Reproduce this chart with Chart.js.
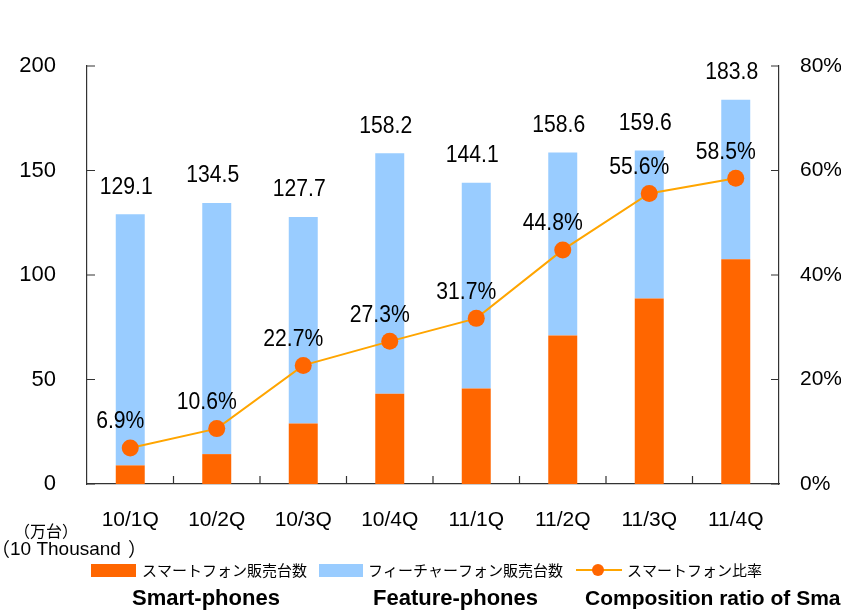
<!DOCTYPE html>
<html>
<head>
<meta charset="utf-8">
<script src="https://cdn.jsdelivr.net/npm/chart.js@4.4.1/dist/chart.umd.min.js"></script>
<style>
  html, body { margin: 0; padding: 0; background: #fff; }
  #wrap { width: 841px; height: 610px; position: relative; }
</style>
</head>
<body>
<div id="wrap"><canvas id="chart"></canvas></div>
<script>
// quarterly sales (10k units) and smartphone share
const quarters = ['10/1Q', '10/2Q', '10/3Q', '10/4Q', '11/1Q', '11/2Q', '11/3Q', '11/4Q'];
const smartUnits = [8.9, 14.3, 29.0, 43.2, 45.7, 71.1, 88.7, 107.5];
const featureUnits = [120.2, 120.2, 98.7, 115.0, 98.4, 87.5, 70.9, 76.3];
const smartRatio = [6.9, 10.6, 22.7, 27.3, 31.7, 44.8, 55.6, 58.5];

const ORANGE = '#FF6600';
const BLUE = '#99CCFF';
const LINE = '#FFA500';
const AXIS = '#333333';
const JP = '"Noto Sans CJK JP"';
const SANS = 'Liberation Sans';

// squeeze the value labels a little so they look like the half-width gothic digits
function narrowText(ctx, text, x, y) {
  ctx.save();
  ctx.translate(x, y);
  ctx.scale(0.92, 1);
  ctx.fillText(text, 0, 0);
  ctx.restore();
}

const decorations = {
  id: 'decorations',
  afterDatasetsDraw(chart) {
    const { ctx, chartArea: a, scales: { x, y, y1 } } = chart;
    ctx.save();

    // tick marks point into the plot area
    ctx.strokeStyle = AXIS;
    ctx.lineWidth = 1.2;
    ctx.beginPath();
    y.ticks.forEach(t => {
      const py = y.getPixelForValue(t.value);
      ctx.moveTo(a.left, py); ctx.lineTo(a.left + 8, py);
    });
    y1.ticks.forEach(t => {
      const py = y1.getPixelForValue(t.value);
      ctx.moveTo(a.right, py); ctx.lineTo(a.right - 8, py);
    });
    for (let i = 1; i < quarters.length; i++) {
      const px = (x.getPixelForValue(i - 1) + x.getPixelForValue(i)) / 2;
      ctx.moveTo(px, a.bottom); ctx.lineTo(px, a.bottom - 8);
    }
    ctx.stroke();

    // totals above the stacks, share above the points
    ctx.fillStyle = '#000';
    ctx.textAlign = 'center';
    ctx.textBaseline = 'middle';
    ctx.font = '23px "' + SANS + '"';
    const top = chart.getDatasetMeta(1).data;
    const pts = chart.getDatasetMeta(2).data;
    quarters.forEach((q, i) => {
      const total = smartUnits[i] + featureUnits[i];
      narrowText(ctx, total.toFixed(1), top[i].x - 4, top[i].y - 27);
      narrowText(ctx, smartRatio[i].toFixed(1) + '%', pts[i].x - 10, pts[i].y - 26);
    });
    ctx.restore();
  },
  afterDraw(chart) {
    const { ctx } = chart;
    ctx.save();
    ctx.fillStyle = '#000';
    ctx.textBaseline = 'middle';
    ctx.textAlign = 'left';

    // unit note
    ctx.font = '16px ' + JP;
    ctx.fillText('（万台）', 14, 531);
    ctx.font = '19px ' + JP;
    ctx.fillText('（', -9, 550);
    ctx.font = '19px "' + SANS + '"';
    ctx.fillText('10 Thousand', 10, 550);
    ctx.font = '19px ' + JP;
    ctx.fillText('）', 128, 550);

    // legend
    ctx.fillStyle = ORANGE;
    ctx.fillRect(91, 564, 45, 13);
    ctx.fillStyle = BLUE;
    ctx.fillRect(319, 564, 44, 13);
    ctx.strokeStyle = LINE;
    ctx.lineWidth = 2;
    ctx.beginPath();
    ctx.moveTo(576, 570); ctx.lineTo(622, 570);
    ctx.stroke();
    ctx.fillStyle = ORANGE;
    ctx.beginPath();
    ctx.arc(598, 570, 6, 0, Math.PI * 2);
    ctx.fill();

    ctx.fillStyle = '#000';
    ctx.font = '15px ' + JP;
    ctx.fillText('スマートフォン販売台数', 142, 570);
    ctx.fillText('フィーチャーフォン販売台数', 368, 570);
    ctx.fillText('スマートフォン比率', 627, 570);

    // english captions
    ctx.font = 'bold 22px "' + SANS + '"';
    ctx.fillText('Smart-phones', 132, 599);
    ctx.fillText('Feature-phones', 373, 599);
    ctx.font = 'bold 21px "' + SANS + '"';
    ctx.fillText('Composition ratio of Smartphones', 585, 599);
    ctx.restore();
  }
};

new Chart(document.getElementById('chart'), {
  data: {
    labels: quarters,
    datasets: [
      {
        type: 'bar',
        label: 'スマートフォン販売台数',
        data: smartUnits,
        backgroundColor: ORANGE,
        yAxisID: 'y',
        order: 2
      },
      {
        type: 'bar',
        label: 'フィーチャーフォン販売台数',
        data: featureUnits,
        backgroundColor: BLUE,
        yAxisID: 'y',
        order: 2
      },
      {
        type: 'line',
        label: 'スマートフォン比率',
        data: smartRatio,
        borderColor: LINE,
        borderWidth: 2,
        pointRadius: 8.5,
        pointBackgroundColor: ORANGE,
        pointBorderWidth: 0,
        yAxisID: 'y1',
        order: 1
      }
    ]
  },
  options: {
    responsive: true,
    maintainAspectRatio: false,
    animation: false,
    layout: { padding: { top: 66, left: 0, right: 0, bottom: 0 } },
    datasets: {
      bar: { categoryPercentage: 1, barPercentage: 0.335 }
    },
    plugins: {
      legend: { display: false },
      tooltip: { enabled: false }
    },
    scales: {
      x: {
        stacked: true,
        grid: { display: false },
        border: { color: AXIS, width: 1.2 },
        ticks: { color: '#000', font: { family: SANS, size: 21 }, padding: 16 },
        afterFit(s) { s.height = 126; }
      },
      y: {
        stacked: true,
        position: 'left',
        min: 0,
        max: 200,
        grid: { display: false },
        border: { color: AXIS, width: 1.2 },
        ticks: { stepSize: 50, color: '#000', font: { family: SANS, size: 22 }, padding: 23 },
        afterFit(s) { s.width = 87; }
      },
      y1: {
        position: 'right',
        min: 0,
        max: 80,
        grid: { display: false },
        border: { color: AXIS, width: 1.2 },
        ticks: {
          stepSize: 20,
          color: '#000',
          font: { family: SANS, size: 21 },
          padding: 13,
          callback: v => v + '%'
        },
        afterFit(s) { s.width = 62; }
      }
    }
  },
  plugins: [decorations]
});
</script>
</body>
</html>
